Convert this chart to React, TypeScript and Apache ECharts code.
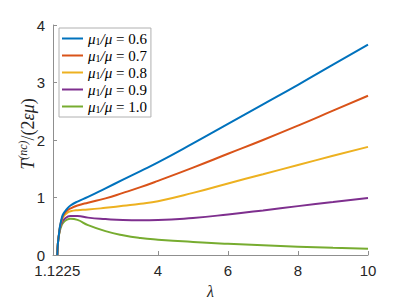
import React, { useEffect, useRef } from 'react';
import * as echarts from 'echarts';

const lambda = [1.1225, 1.14, 1.17, 1.2, 1.25, 1.3, 1.4, 1.5, 1.7, 2, 2.5, 3, 3.5, 4, 5, 6, 7, 8, 9, 10];
const ratios = ['0.6', '0.7', '0.8', '0.9', '1.0'];
const t06 = [0, 0.2, 0.36, 0.5, 0.64, 0.72, 0.8, 0.86, 0.93, 1.01, 1.16, 1.31, 1.46, 1.61, 1.94, 2.28, 2.62, 2.96, 3.31, 3.66];
const t07 = [0, 0.2, 0.36, 0.49, 0.62, 0.7, 0.77, 0.81, 0.86, 0.91, 0.985, 1.08, 1.18, 1.29, 1.52, 1.76, 2.0, 2.25, 2.51, 2.77];
const t08 = [0, 0.2, 0.35, 0.48, 0.6, 0.67, 0.73, 0.76, 0.78, 0.79, 0.82, 0.855, 0.89, 0.935, 1.08, 1.245, 1.405, 1.565, 1.725, 1.88];
const t09 = [0, 0.2, 0.35, 0.46, 0.56, 0.61, 0.66, 0.68, 0.68, 0.65, 0.625, 0.608, 0.604, 0.608, 0.645, 0.705, 0.775, 0.85, 0.92, 0.99];
const t10 = [0, 0.2, 0.34, 0.43, 0.52, 0.57, 0.615, 0.63, 0.61, 0.52, 0.415, 0.343, 0.295, 0.267, 0.227, 0.195, 0.168, 0.145, 0.125, 0.11];
const xTicks = [1.1225, 4, 6, 8, 10];
const yTicks = [0, 1, 2, 3, 4];
const yTitle = '{i|T}{sup|(nc)}{n|/(2}{i|εμ}{n|)}';

const seriesValues = [t06, t07, t08, t09, t10];
const colors = ['#0072BD', '#D95319', '#EDB120', '#7E2F8E', '#77AC30'];

export default function App() {
  const ref = useRef<HTMLDivElement>(null);
  useEffect(() => {
    if (!ref.current) return;
    const chart = echarts.init(ref.current, null, { renderer: 'svg' });
    const serif = '"Liberation Serif", "DejaVu Serif", serif';
    const sans = '"Liberation Sans", Arial, sans-serif';
    chart.setOption({
      animation: false,
      grid: { left: 53, right: 39, top: 25, bottom: 50, containLabel: false },
      graphic: [
        {
          type: 'text',
          x: 28,
          y: 134,
          rotation: Math.PI / 2,
          style: {
            text: yTitle,
            align: 'center',
            verticalAlign: 'middle',
            fill: '#262626',
            fontFamily: serif,
            fontSize: 18,
            lineHeight: 22,
            rich: {
              i: { fontStyle: 'italic', fontFamily: serif, fontSize: 18, fill: '#262626', lineHeight: 22 },
              sup: { fontStyle: 'italic', fontFamily: serif, fontSize: 12, fill: '#262626', verticalAlign: 'top', lineHeight: 12 },
              n: { fontFamily: serif, fontSize: 18, fill: '#262626', lineHeight: 22 },
            },
          },
        },
      ],
      legend: {
        orient: 'vertical',
        left: 59,
        top: 28,
        icon: 'rect',
        itemWidth: 21,
        itemHeight: 2,
        itemGap: 2,
        padding: [3, 4, 3, 3],
        borderColor: '#b0b0b0',
        borderWidth: 1,
        backgroundColor: '#fff',
        data: ratios.map((r) => 'μ1/μ = ' + r),
        formatter: (name: string) => {
          const r = name.split('= ')[1];
          return `{i|μ}{s|1}{i|/μ}{n| = ${r}}`;
        },
        textStyle: {
          color: '#000',
          fontFamily: serif,
          fontSize: 15,
          lineHeight: 15,
          rich: {
            i: { fontStyle: 'italic', fontFamily: serif, fontSize: 15, color: '#000', lineHeight: 15 },
            s: { fontFamily: serif, fontSize: 10, color: '#000', verticalAlign: 'bottom', lineHeight: 10 },
            n: { fontFamily: serif, fontSize: 15, color: '#000', lineHeight: 15 },
          },
        },
      },
      xAxis: {
        type: 'value',
        min: 1,
        max: 10,
        name: 'λ',
        nameLocation: 'middle',
        nameGap: 28,
        nameTextStyle: { fontFamily: serif, fontStyle: 'italic', fontSize: 16, color: '#262626' },
        axisLine: { show: true, lineStyle: { color: '#8f8f8f', width: 1 } },
        axisTick: { show: true, inside: true, length: 4, customValues: xTicks, lineStyle: { color: '#8f8f8f' } },
        axisLabel: {
          customValues: xTicks,
          formatter: (v: number) => String(v),
          fontFamily: sans,
          fontSize: 15,
          color: '#262626',
          margin: 8,
        },
        splitLine: { show: false },
      },
      yAxis: {
        type: 'value',
        min: 0,
        max: 4,
        interval: 1,
        axisLine: { show: true, lineStyle: { color: '#8f8f8f', width: 1 } },
        axisTick: { show: true, inside: true, length: 4, lineStyle: { color: '#8f8f8f' } },
        axisLabel: { fontFamily: sans, fontSize: 15, color: '#262626', margin: 8, customValues: yTicks },
        splitLine: { show: false },
      },
      series: seriesValues.map((vals, k) => ({
        name: 'μ1/μ = ' + ratios[k],
        type: 'line',
        data: lambda.map((x, i) => [x, vals[i]]),
        smooth: 0.5,
        showSymbol: false,
        symbol: 'none',
        lineStyle: { color: colors[k], width: 2 },
        itemStyle: { color: colors[k] },
        z: 10 - k,
      })),
    });
    return () => chart.dispose();
  }, []);
  return <div ref={ref} style={{ width: 407, height: 305, position: 'absolute', left: 0, top: 0, background: '#fff' }} />;
}
